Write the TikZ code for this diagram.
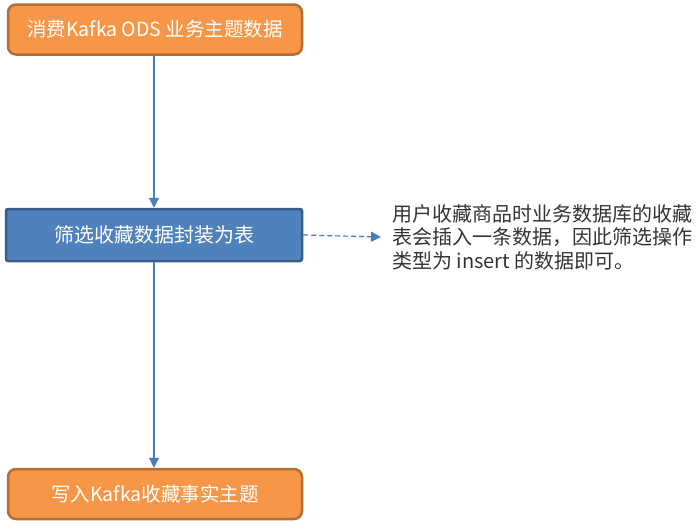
\documentclass[tikz,border=0pt]{standalone}
\usepackage{fontspec}
\setmainfont{Noto Sans CJK SC}
\usetikzlibrary{shapes,arrows,calc,arrows.meta}
\usetikzlibrary{positioning}
\definecolor{orfill}{HTML}{F79646}
\definecolor{ordraw}{HTML}{B66D31}
\definecolor{blfill}{HTML}{4F81BD}
\definecolor{bldraw}{HTML}{385D8A}
\definecolor{arcol}{HTML}{4A7EBB}
\tikzset{
  topic/.style={draw=ordraw, fill=orfill, line width=2.5pt, rounded corners=8pt,
    minimum width=294pt, minimum height=50pt, text=white, font=\fontsize{19.5}{22}\selectfont},
  filterbox/.style={draw=bldraw, fill=blfill, line width=2.5pt, rounded corners=2pt,
    minimum width=296pt, minimum height=52pt, text=white, font=\fontsize{20}{22}\selectfont},
  note/.style={align=left, text=black!80, font=\fontsize{20}{23.5}\selectfont, inner sep=0pt},
  flow/.style={arcol, line width=1.2pt, -{Triangle[length=10pt,width=10pt]}}
}

\begin{document}
\begin{tikzpicture}[x=1pt,y=-1pt]
            \useasboundingbox (0,0) rectangle (700,528);
            \draw (155,29.5) node[topic] (ods) {消费Kafka ODS 业务主题数据};
            \draw (154,235) node[filterbox] (filt) {筛选收藏数据封装为表};
            \draw (155,494) node[topic] (dwd) {写入Kafka收藏事实主题};
            \draw (392,237) node[note, anchor=west] (memo) {用户收藏商品时业务数据库的收藏\\表会插入一条数据，因此筛选操作\\类型为 insert 的数据即可。};
            \path[flow]
            (ods.south -| filt) edge (filt.north)
            (filt) edge (dwd.north -| filt);
            \draw[flow, dashed, dash pattern=on 5pt off 3pt] (filt.east) -- (memo.west -| 381,0);
        \end{tikzpicture}
\end{document}
